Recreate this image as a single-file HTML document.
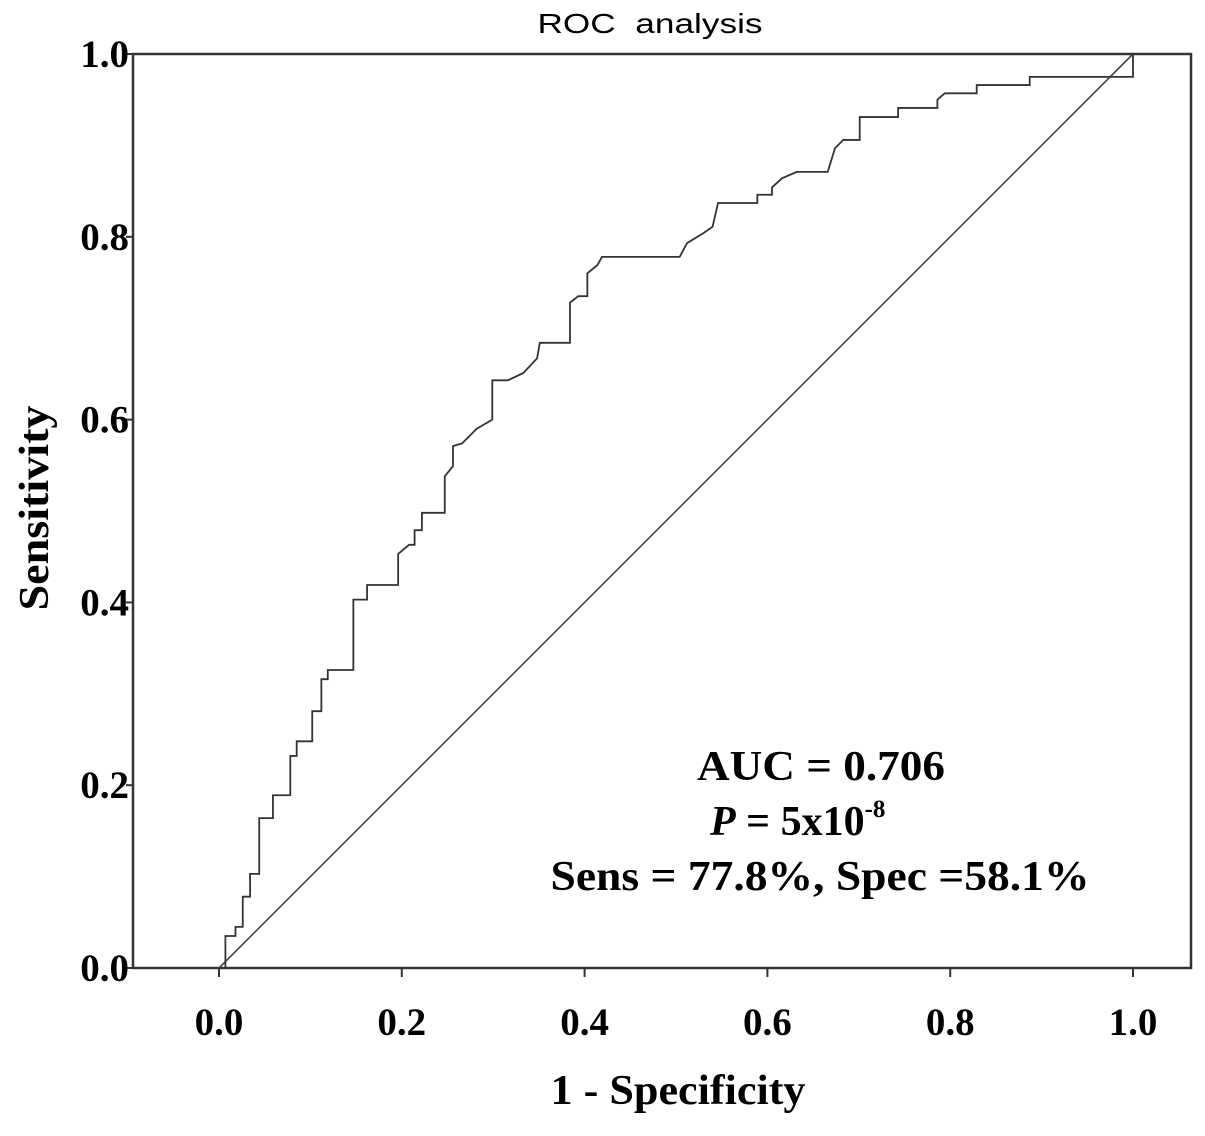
<!DOCTYPE html>
<html><head><meta charset="utf-8"><style>
body{margin:0;background:#fff}
svg text{font-family:"Liberation Serif",serif;font-weight:bold;fill:#000}
</style></head><body>
<svg id="chart" width="1205" height="1131" viewBox="0 0 1205 1131" xmlns="http://www.w3.org/2000/svg">
<text x="650" y="33" text-anchor="middle" textLength="225" lengthAdjust="spacingAndGlyphs" style="font-family:'Liberation Sans',sans-serif;font-weight:normal;font-size:28px">ROC&#160;&#160;analysis</text>
<rect x="133" y="54" width="1058" height="914" fill="none" stroke="#333" stroke-width="2.5"/>
<g id="axes"></g>
<line id="diag" stroke="#444" stroke-width="1.6"/>
<polyline id="roc" fill="none" stroke="#333" stroke-width="1.8"/>
<text x="678" y="1104" text-anchor="middle" font-size="42" textLength="255" lengthAdjust="spacingAndGlyphs">1 - Specificity</text>
<text transform="translate(48,508) rotate(-90)" text-anchor="middle" font-size="42" textLength="205" lengthAdjust="spacingAndGlyphs">Sensitivity</text>
<text x="821" y="780" text-anchor="middle" font-size="42" textLength="248" lengthAdjust="spacingAndGlyphs">AUC = 0.706</text>
<text x="710" y="835" font-size="42"><tspan font-style="italic">P</tspan> = 5x10<tspan font-size="25" dy="-18">-8</tspan></text>
<text x="820" y="890" text-anchor="middle" font-size="42" textLength="539" lengthAdjust="spacingAndGlyphs">Sens = 77.8%, Spec =58.1%</text>
</svg>
<script>
const fpr=[0.007,0.007,0.018,0.018,0.026,0.026,0.034,0.034,0.044,0.044,0.059,0.059,0.078,0.078,0.085,0.085,0.102,0.102,0.112,0.112,0.119,0.119,0.147,0.147,0.162,0.162,0.196,0.196,0.208,0.214,0.214,0.222,0.222,0.247,0.247,0.256,0.256,0.266,0.282,0.299,0.299,0.316,0.333,0.348,0.351,0.384,0.384,0.393,0.403,0.403,0.414,0.419,0.504,0.512,0.530,0.540,0.546,0.589,0.589,0.605,0.605,0.616,0.632,0.666,0.674,0.683,0.701,0.701,0.743,0.743,0.786,0.786,0.794,0.829,0.829,0.887,0.887,1,1];
const tpr=[0,0.035,0.035,0.045,0.045,0.078,0.078,0.103,0.103,0.164,0.164,0.189,0.189,0.232,0.232,0.248,0.248,0.281,0.281,0.316,0.316,0.326,0.326,0.403,0.403,0.419,0.419,0.453,0.463,0.463,0.479,0.479,0.498,0.498,0.538,0.549,0.571,0.574,0.590,0.600,0.643,0.643,0.651,0.667,0.684,0.684,0.728,0.735,0.735,0.760,0.769,0.778,0.778,0.793,0.804,0.811,0.837,0.837,0.846,0.846,0.854,0.864,0.871,0.871,0.897,0.906,0.906,0.931,0.931,0.941,0.941,0.950,0.957,0.957,0.966,0.966,0.975,0.975,1];
const xTicks=[0,0.2,0.4,0.6,0.8,1.0];
const yTicks=[0,0.2,0.4,0.6,0.8,1.0];
const sx=v=>219+v*914, sy=v=>968-v*914;
const NS='http://www.w3.org/2000/svg';
const g=document.getElementById('axes');
xTicks.forEach(t=>{
  const l=document.createElementNS(NS,'line');
  
  
  l.setAttribute('x1',sx(t));l.setAttribute('x2',sx(t));l.setAttribute('y1',968);l.setAttribute('y2',977);l.setAttribute('stroke','#333');l.setAttribute('stroke-width','2');
  g.appendChild(l);
  const tx=document.createElementNS(NS,'text');
  
  
  tx.setAttribute('x',sx(t));tx.setAttribute('y',1035);tx.setAttribute('text-anchor','middle');tx.setAttribute('font-size','39');
  tx.textContent=t.toFixed(1);g.appendChild(tx);
});
yTicks.forEach(t=>{
  const l=document.createElementNS(NS,'line');
  
  
  l.setAttribute('x1',126);l.setAttribute('x2',133);l.setAttribute('y1',sy(t));l.setAttribute('y2',sy(t));l.setAttribute('stroke','#333');l.setAttribute('stroke-width','2');
  g.appendChild(l);
  const tx=document.createElementNS(NS,'text');
  
  
  tx.setAttribute('x',129);tx.setAttribute('y',sy(t)+13);tx.setAttribute('text-anchor','end');tx.setAttribute('font-size','39');
  tx.textContent=t.toFixed(1);g.appendChild(tx);
});
const d=document.getElementById('diag');
d.setAttribute('x1',sx(0));d.setAttribute('y1',sy(0));d.setAttribute('x2',sx(1));d.setAttribute('y2',sy(1));
document.getElementById('roc').setAttribute('points',fpr.map((v,i)=>sx(v)+','+sy(tpr[i])).join(' '));
</script>
</body></html>
